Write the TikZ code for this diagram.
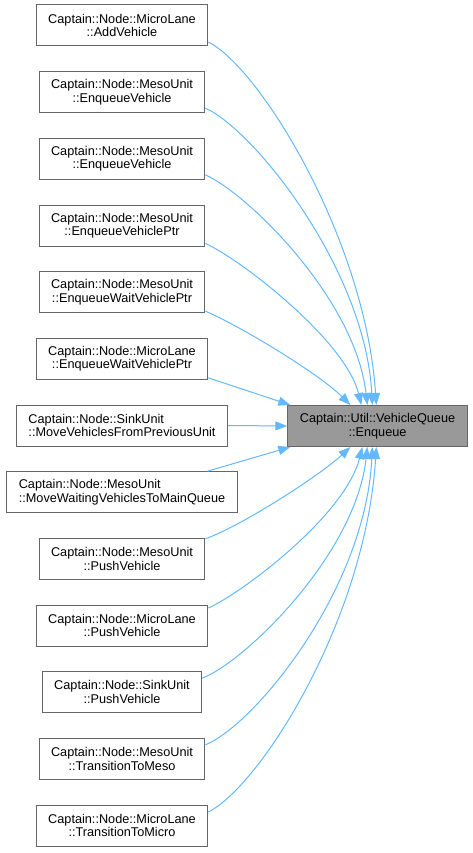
\documentclass[tikz,border=0pt]{standalone}
\usepackage{fontspec}
\setmainfont{Liberation Sans}
\usepackage{tikz}
\usetikzlibrary{calc}
\usetikzlibrary{arrows.meta}
\definecolor{edgeblue}{HTML}{63B8FF}
\definecolor{boxline}{HTML}{666666}
\definecolor{boxfill}{HTML}{999999}
\tikzstyle{caller}=[rectangle,draw=boxline,fill=white, line width=1pt, minimum height = 41pt, inner xsep=12pt, inner ysep=0pt, font=\fontsize{12.7}{13.5}\selectfont]
\tikzstyle{callee}=[caller, fill=boxfill, align=center]
\tikzstyle{calls}=[draw=edgeblue, line width=1pt, -{Triangle[length=12pt,width=9pt]}]

\begin{document}
\begin{tikzpicture}[x=1pt, y=-1pt]
    \useasboundingbox (0,0) rectangle (473,853);

    %callee
    \node [callee] (t) at (377.5,426) {Captain::Util::VehicleQueue\\::Enqueue};

    %callers
    \foreach \i/\cls/\fn/\ha in {1/MicroLane/AddVehicle/center, 2/MesoUnit/EnqueueVehicle/center, 3/MesoUnit/EnqueueVehicle/center, 4/MesoUnit/EnqueueVehiclePtr/center, 5/MesoUnit/EnqueueWaitVehiclePtr/center, 6/MicroLane/EnqueueWaitVehiclePtr/center, 7/SinkUnit/MoveVehiclesFromPreviousUnit/left, 8/MesoUnit/MoveWaitingVehiclesToMainQueue/left, 9/MesoUnit/PushVehicle/center, 10/MicroLane/PushVehicle/center, 11/SinkUnit/PushVehicle/center, 12/MesoUnit/TransitionToMeso/center, 13/MicroLane/TransitionToMicro/center} {
    \node [caller, align=\ha] (c\i) at (122,{25.5+66.667*(\i-1)}) {Captain::Node::\cls\\::\fn};
    }

    %calls from above
    \foreach \i/\sy/\ex/\ax/\ay/\bx/\by in {1/16.5/89/52/26/-11/-165, 2/16/85/49/22/-7/-135, 3/16/80/44/20/-12/-105, 4/18/74/34/15/-16/-65, 5/19/63/39/17/-30/-30} {
    \draw [calls] ($(c\i.east)+(0,\sy)$) .. controls +(\ax,\ay) and +(\bx,\by) .. ($(t.north west)+(\ex,0)$);
    }

    %calls from below
    \foreach \i/\sy/\ex/\ax/\ay/\bx/\by in {9/-20/63/38/-14/-30/28, 10/-17.5/75/34/-15/-17/68, 11/-14/80/42/-16/-12/108, 12/-14/85/49/-20/-7/143, 13/-13.5/89/52/-26/-11/173} {
    \draw [calls] ($(c\i.east)+(0,\sy)$) .. controls +(\ax,\ay) and +(\bx,\by) .. ($(t.south west)+(\ex,0)$);
    }

    %straight calls
    \draw [calls] ($(c6.east)+(0,19)$) -- ($(t.north west)+(3,0)$);
    \draw [calls] (c7.east) -- (t.west);
    \draw [calls] ($(c8.north)+(85.5,0)$) -- ($(t.south west)+(3,0)$);

\end{tikzpicture}
\end{document}
